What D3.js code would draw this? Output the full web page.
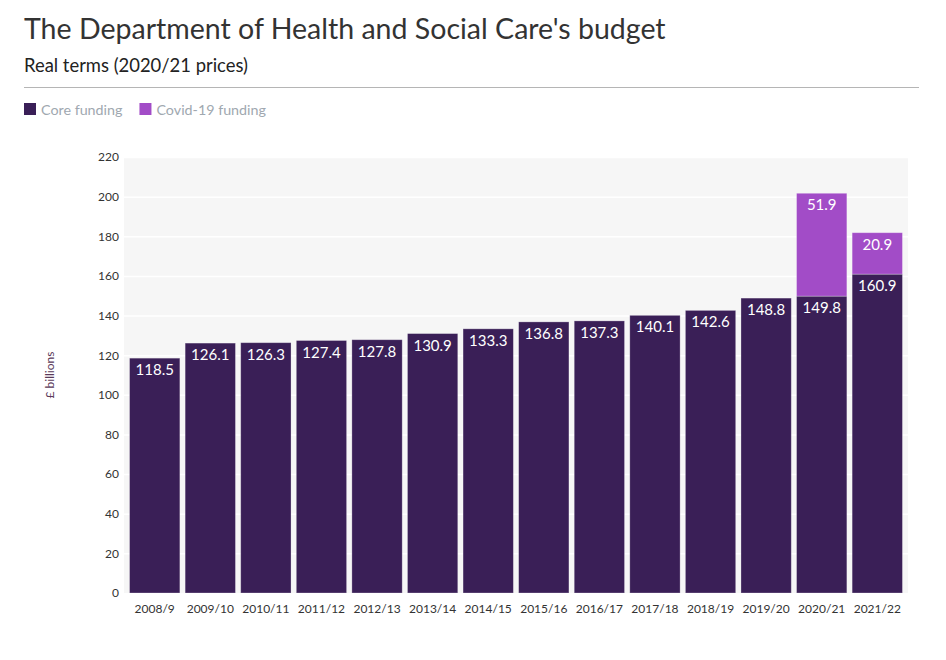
<!DOCTYPE html>
<html><head><meta charset="utf-8">
<script src="https://cdn.jsdelivr.net/npm/d3@7"></script>
<style>
body{margin:0;background:#fff;}
svg text{font-family:Lato,"Noto Sans",sans-serif;}
</style></head>
<body><svg id="c" width="946" height="660"></svg>
<script>
const categories = ["2008/9","2009/10","2010/11","2011/12","2012/13","2013/14","2014/15","2015/16","2016/17","2017/18","2018/19","2019/20","2020/21","2021/22"];
const coreFunding = [118.5,126.1,126.3,127.4,127.8,130.9,133.3,136.8,137.3,140.1,142.6,148.8,149.8,160.9];
const covidFunding = [0,0,0,0,0,0,0,0,0,0,0,0,51.9,20.9];
const yTicks = [0,20,40,60,80,100,120,140,160,180,200,220];
const seriesNames = ["Core funding","Covid-19 funding"];
const colors = ["#3a1f57","#a24cc7"];

const svg = d3.select("#c");
const m = {left:124, right:908, top:157, bottom:593};
const x = d3.scaleBand().domain(categories).range([m.left,m.right]).paddingInner(0.095).paddingOuter(0.1);
const y = d3.scaleLinear().domain([0,220]).range([m.bottom,m.top]);

function fit(sel, w){ const n=sel.node(); const l=n.getComputedTextLength(); const fs=parseFloat(sel.attr("font-size")); sel.attr("font-size", fs*w/l); }
const t = svg.append("text").attr("x",24).attr("y",39).attr("font-size",28).attr("fill","#333").text("The Department of Health and Social Care's budget");
fit(t,642);
const st = svg.append("text").attr("x",24).attr("y",72).attr("font-size",18).attr("fill","#222").text("Real terms (2020/21 prices)");
fit(st,224);
svg.append("line").attr("x1",24).attr("x2",919).attr("y1",87.5).attr("y2",87.5).attr("stroke","#b5b5b5");

// legend
let lx = 24;
seriesNames.forEach((n,i)=>{
  svg.append("rect").attr("x",lx).attr("y",103).attr("width",12).attr("height",12).attr("fill",colors[i]);
  const tt = svg.append("text").attr("x",lx+17).attr("y",114.5).attr("font-size",14.3).attr("fill","#a0a8b0").text(n);
  lx += 17 + tt.node().getComputedTextLength() + 17;
});

// plot bg
svg.append("rect").attr("x",m.left).attr("y",m.top).attr("width",m.right-m.left).attr("height",m.bottom-m.top).attr("fill","#f6f6f6");
svg.append("g").selectAll("line").data(yTicks.filter(d=>d>0)).join("line")
  .attr("x1",m.left).attr("x2",m.right).attr("y1",d=>y(d)+0.5).attr("y2",d=>y(d)+0.5)
  .attr("stroke","#ffffff").attr("stroke-width",1.5);

// y axis
const ya = svg.append("g").attr("transform",`translate(${m.left},0)`)
  .call(d3.axisLeft(y).tickValues(yTicks).tickSize(0).tickPadding(5));
ya.select(".domain").remove();
ya.selectAll("text").attr("font-size",12).attr("fill","#333").style("font-family","Lato,'Noto Sans',sans-serif");
svg.append("text").attr("transform",`translate(54,375) rotate(-90)`).attr("text-anchor","middle")
  .attr("font-size",12).attr("fill","#5a3a5a").text("£ billions");

// x axis
const xa = svg.append("g").attr("transform",`translate(0,${m.bottom})`)
  .call(d3.axisBottom(x).tickSize(0).tickPadding(11));
xa.select(".domain").remove();
xa.selectAll("text").attr("font-size",12).attr("fill","#333").style("font-family","Lato,'Noto Sans',sans-serif");

// bars
const g = svg.append("g");
g.selectAll("rect.core").data(categories).join("rect").attr("class","core")
  .attr("x",d=>x(d)).attr("width",x.bandwidth())
  .attr("y",(d,i)=>y(coreFunding[i])).attr("height",(d,i)=>y(0)-y(coreFunding[i]))
  .attr("fill",colors[0]).attr("stroke","rgba(255,255,255,0.35)").attr("stroke-width",0.8);
g.selectAll("rect.cov").data(categories.filter((d,i)=>covidFunding[i]>0)).join("rect").attr("class","cov")
  .attr("x",d=>x(d)).attr("width",x.bandwidth())
  .attr("y",d=>{const i=categories.indexOf(d);return y(coreFunding[i]+covidFunding[i]);})
  .attr("height",d=>{const i=categories.indexOf(d);return y(coreFunding[i])-y(coreFunding[i]+covidFunding[i]);})
  .attr("fill",colors[1]).attr("stroke","rgba(255,255,255,0.35)").attr("stroke-width",0.8);

// labels
g.selectAll("text.cl").data(categories).join("text").attr("class","cl")
  .attr("x",d=>x(d)+x.bandwidth()/2).attr("y",(d,i)=>y(coreFunding[i])+17)
  .attr("text-anchor","middle").attr("font-size",15).attr("fill","#fff")
  .text((d,i)=>coreFunding[i].toFixed(1));
g.selectAll("text.vl").data(categories.filter((d,i)=>covidFunding[i]>0)).join("text").attr("class","vl")
  .attr("x",d=>x(d)+x.bandwidth()/2)
  .attr("y",d=>{const i=categories.indexOf(d);return y(coreFunding[i]+covidFunding[i])+17;})
  .attr("text-anchor","middle").attr("font-size",15).attr("fill","#fff")
  .text(d=>covidFunding[categories.indexOf(d)].toFixed(1));
</script></body></html>
